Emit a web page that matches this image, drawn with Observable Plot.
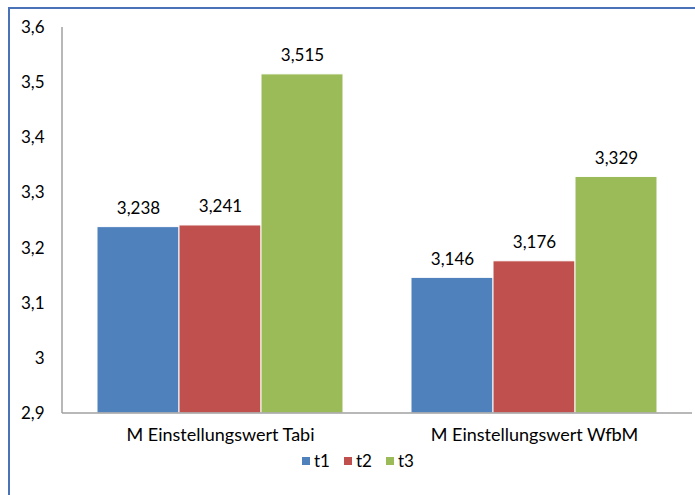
<!DOCTYPE html>
<html>
<head>
<meta charset="utf-8">
<script src="https://cdn.jsdelivr.net/npm/d3@7"></script>
<script src="https://cdn.jsdelivr.net/npm/@observablehq/plot@0.6"></script>
<style>
  html, body { margin: 0; padding: 0; background: #fff; }
  #wrap { position: relative; width: 695px; height: 495px; overflow: hidden; font-family: Lato, sans-serif; }
  #frame { position: absolute; left: 8px; top: 7px; width: 800px; height: 600px; border-top: 2px solid #4A72B8; border-left: 2px solid #4A72B8; }
  #chart { position: absolute; left: 0; top: 0; }
  #legend { position: absolute; left: 302px; top: 450px; display: flex; gap: 14px; font-size: 17px; color: #000; align-items: center; }
  #legend .item { display: flex; align-items: center; gap: 4px; }
  #legend .sw { width: 8px; height: 8px; display: inline-block; }
</style>
</head>
<body>
<div id="wrap">
  <div id="frame"></div>
  <div id="chart"></div>
  <div id="legend"></div>
</div>
<script>
const groups = ["M Einstellungswert Tabi", "M Einstellungswert WfbM"];
const series = ["t1", "t2", "t3"];
const tabiValues = [3.238, 3.241, 3.515];
const wfbmValues = [3.146, 3.176, 3.329];
const colors = ["#4F81BD", "#C0504D", "#9BBB59"];
const yTicks = [2.9, 3.0, 3.1, 3.2, 3.3, 3.4, 3.5, 3.6];
const yMin = 2.9, yMax = 3.6;

const valuesByGroup = [tabiValues, wfbmValues];
const rows = groups.flatMap((g, i) => series.map((s, j) => ({group: g, series: s, value: valuesByGroup[i][j]})));

const comma = v => String(v).replace(".", ",");
const fmt3 = v => v.toFixed(3).replace(".", ",");

const plot = Plot.plot({
  width: 695,
  height: 455,
  marginLeft: 62,
  marginRight: 3,
  marginTop: 27,
  marginBottom: 42,
  style: {fontFamily: "Lato, sans-serif", fontSize: "17px", color: "#000", background: "transparent"},
  facet: {data: rows, x: "group"},
  fx: {domain: groups, axis: "bottom", paddingInner: 0.21, paddingOuter: 0.108, label: null, tickSize: 0, tickPadding: 15},
  x: {domain: series, padding: 0, axis: null},
  y: {domain: [yMin, yMax], ticks: yTicks, tickFormat: comma, tickSize: 0, tickPadding: 52, label: null},
  color: {domain: series, range: colors},
  marks: [
    Plot.barY(rows, {x: "series", y1: () => yMin, y2: "value", fill: "series", stroke: "white", strokeWidth: 1}),
    Plot.text(rows, {x: "series", y: "value", text: d => fmt3(d.value), dy: -13, lineAnchor: "bottom", fill: "#000", fontSize: 17})
  ]
});

document.getElementById("chart").appendChild(plot);

// enlarge the category labels of the fx axis
d3.select(plot).selectAll("[aria-label='fx-axis tick label'] text, [aria-label='fx-axis'] text").style("font-size", "18px");

// axis lines drawn through the plot's own y scale
const ys = plot.scale("y");
const svg = d3.select(plot);
svg.append("line")
  .attr("x1", 62).attr("x2", 62)
  .attr("y1", ys.apply(yMax)).attr("y2", ys.apply(yMin))
  .attr("stroke", "#A0A0A0").attr("stroke-width", 1.5);
svg.append("line")
  .attr("x1", 62).attr("x2", 692)
  .attr("y1", ys.apply(yMin)).attr("y2", ys.apply(yMin))
  .attr("stroke", "#A0A0A0").attr("stroke-width", 1.5);

// legend
const legend = d3.select("#legend");
series.forEach((s, i) => {
  const it = legend.append("div").attr("class", "item");
  it.append("span").attr("class", "sw").style("background", colors[i]);
  it.append("span").text(s);
});
</script>
</body>
</html>
